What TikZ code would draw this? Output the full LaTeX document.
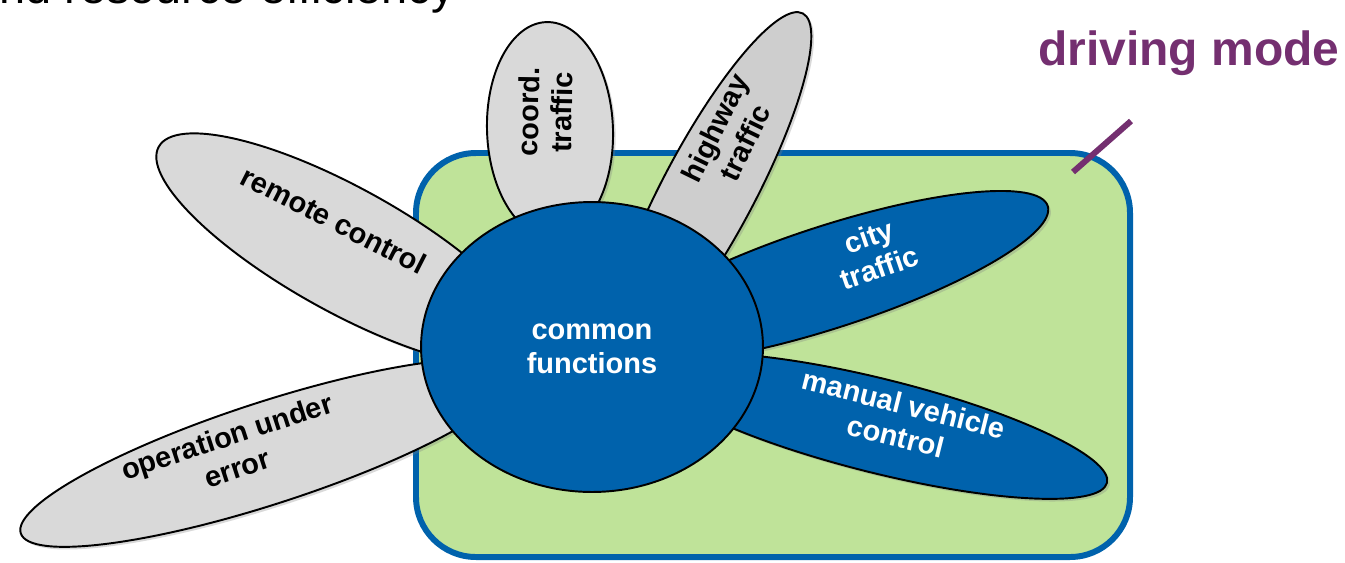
\documentclass[tikz,border=0pt]{standalone}
\usepackage{fontspec}
\setmainfont{Liberation Sans}
\usetikzlibrary{shapes.geometric,shadows}
\definecolor{petalblue}{HTML}{0062AC}
\definecolor{petalgray}{HTML}{D9D9D9}
\definecolor{petaldark}{HTML}{CECECE}
\definecolor{modegreen}{HTML}{BFE399}
\definecolor{modeframe}{HTML}{0062AC}
\definecolor{modepurple}{HTML}{742F70}

\begin{document}
\begin{tikzpicture}[x=.02cm,y=-.02cm,
  petal/.style={ellipse,draw=black,line width=1.1pt,inner sep=0pt,
    drop shadow={opacity=.3,shadow xshift=1.5pt,shadow yshift=-1.5pt}},
  greypetal/.style={petal,fill=petalgray},
  bluepetal/.style={petal,fill=petalblue},
  lbl/.style={font=\fontsize{16.5}{19}\selectfont\bfseries,align=center,inner sep=0pt}]
  \useasboundingbox (0,0) rectangle (1345,562);
  \node[anchor=base west,inner sep=0pt,font=\fontsize{26.7}{32}\selectfont] (head) at (-27,3) {and resource efficiency};
  \draw[draw=modeframe,fill=modegreen,line width=3.4pt,rounded corners=1.2cm] (416,153) rectangle (1130,557);
  \coordinate (tick-a) at (1073,172);
  \coordinate (tick-b) at (1131,121);
  \draw[modepurple,line width=3.4pt] (tick-a) -- (tick-b);
  \node[anchor=base west,inner sep=0pt,text=modepurple,font=\fontsize{27.3}{32}\selectfont\bfseries] (mode) at (1038,65) {driving mode};
  \node[greypetal,minimum width=8.52cm,minimum height=2.48cm,rotate=-29] (remote) at (345,250) {};
  \node[greypetal,minimum width=10.4cm,minimum height=2.04cm,rotate=18] (operation) at (268,453) {};
  \node[greypetal,minimum width=4.32cm,minimum height=2.52cm,rotate=92] (coord) at (550,130) {};
  \node[petal,fill=petaldark,minimum width=8cm,minimum height=1.84cm,rotate=62] (highway) at (709,190) {};
  \node[bluepetal,minimum width=9.2cm,minimum height=2.04cm,rotate=18] (city) at (829,277) {};
  \node[bluepetal,minimum width=9.4cm,minimum height=1.88cm,rotate=-14] (manual) at (879,426) {};
  \node[ellipse,draw=black,line width=1.1pt,fill=petalblue,minimum width=6.84cm,minimum height=5.8cm] (common) at (592,347) {};
  \node[lbl,rotate=-27] (remote-t) at (334,220) {remote control};
  \node[lbl,rotate=18] (operation-t) at (232,452) {operation under\\error};
  \node[lbl,rotate=89] (coord-t) at (545,112) {coord.\\traffic};
  \node[lbl,rotate=64] (highway-t) at (730,135) {highway\\traffic};
  \node[lbl,text=white,rotate=19] (city-t) at (874,252) {city\\traffic};
  \node[lbl,text=white,rotate=-14] (manual-t) at (900,420) {manual vehicle\\control};
  \node[lbl,text=white] (common-t) at (592,349) {common\\functions};
\end{tikzpicture}
\end{document}
